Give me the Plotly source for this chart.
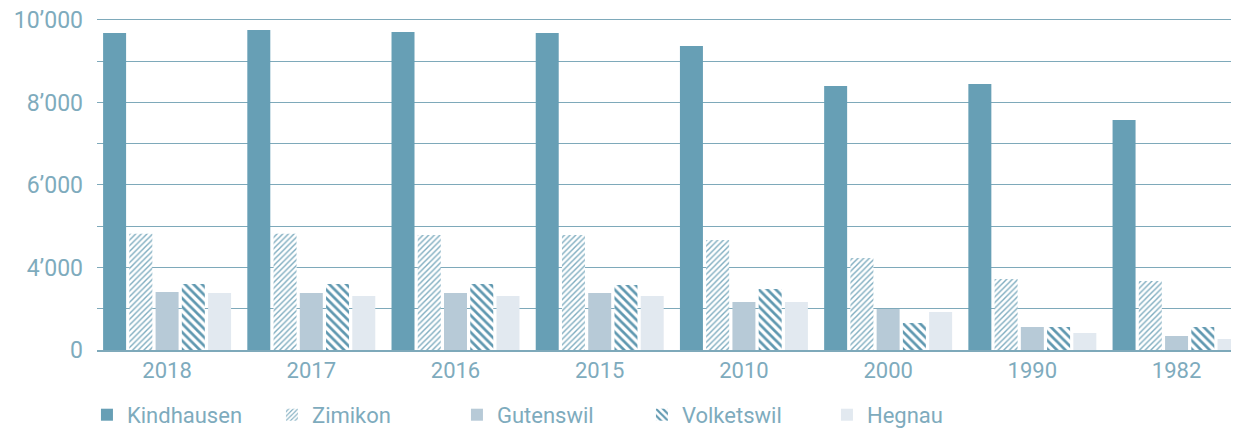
import plotly.graph_objects as go

years = ["2018", "2017", "2016", "2015", "2010", "2000", "1990", "1982"]
kindhausen = [9685, 9758, 9709, 9685, 9370, 8400, 8448, 7576]
zimikon = [4820, 4820, 4788, 4788, 4667, 4230, 3721, 3673]
gutenswil = [3406, 3382, 3382, 3382, 3164, 2994, 2558, 2339]
volketswil = [3600, 3600, 3600, 3576, 3479, 2655, 2558, 2558]
hegnau = [3382, 3309, 3309, 3309, 3164, 2921, 2412, 2267]

tick_vals = [2000, 3000, 4000, 5000, 6000, 7000, 8000, 9000, 10000]
tick_text = ["0", "", "4’000", "", "6’000", "", "8’000", "", "10’000"]

TEXT = "#7eabbd"
GRID = "#7ea9ba"

fig = go.Figure()
fig.add_bar(name="Kindhausen", x=years, y=kindhausen,
            marker=dict(color="#679fb5", line=dict(width=0)))
fig.add_bar(name="Zimikon", x=years, y=zimikon,
            marker=dict(color="#ffffff", line=dict(width=0),
                        pattern=dict(shape="/", fgcolor="#7fadc0", bgcolor="#ffffff",
                                     size=4, solidity=0.35, fillmode="replace")))
fig.add_bar(name="Gutenswil", x=years, y=gutenswil,
            marker=dict(color="#b7cad7", line=dict(width=0)))
fig.add_bar(name="Volketswil", x=years, y=volketswil,
            marker=dict(color="#ffffff", line=dict(width=0),
                        pattern=dict(shape="\\", fgcolor="#5f98b0", bgcolor="#ffffff",
                                     size=6, solidity=0.45, fillmode="replace")))
fig.add_bar(name="Hegnau", x=years, y=hegnau,
            marker=dict(color="#e2e9f0", line=dict(width=0)))

# the page body adds an 8px offset; the figure is sized to fill the rest of the window
fig.update_layout(
    width=1231, height=420,
    margin=dict(l=89, r=0, t=10, b=78, autoexpand=False),
    paper_bgcolor="#ffffff", plot_bgcolor="#ffffff",
    barmode="group", bargap=0.09, bargroupgap=0.124,
    font=dict(family="Roboto, Arial, sans-serif", color=TEXT, size=20),
    showlegend=True,
    legend=dict(orientation="h", x=-0.0088, xanchor="left", y=-0.1955, yanchor="middle",
                font=dict(size=22, color=TEXT), entrywidth=140, entrywidthmode="pixels",
                bgcolor="rgba(0,0,0,0)", traceorder="normal"),
    xaxis=dict(type="category", range=[-0.486, 7.433], showgrid=False, ticks="",
               tickfont=dict(size=22, color=TEXT), showline=True, linecolor=GRID,
               linewidth=1.5, fixedrange=True, automargin=False),
    yaxis=dict(range=[2000, 10048], tickmode="array", tickvals=tick_vals, ticktext=tick_text,
               showgrid=True, gridcolor=GRID, gridwidth=1.2, zeroline=False, ticks="",
               tickfont=dict(size=23, color=TEXT), ticklabelstandoff=13, showline=False,
               ticklabeloverflow="allow", automargin=False),
)

fig.write_html("out.html")
